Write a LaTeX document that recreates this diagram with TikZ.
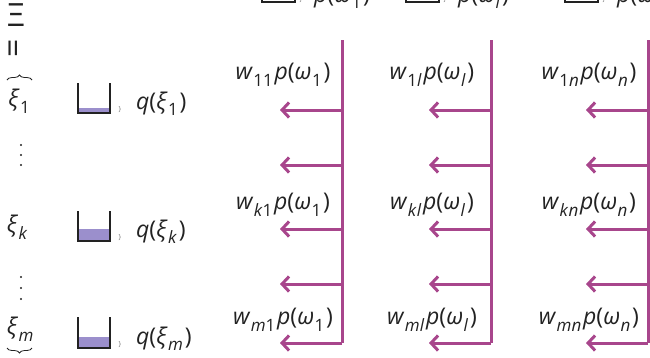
\documentclass[tikz,border=0pt]{standalone}
\usepackage{fontspec}
\setmainfont{Open Sans}
\usetikzlibrary{arrows.meta,decorations.pathreplacing}
\definecolor{mag}{RGB}{168,70,140}
\definecolor{lav}{RGB}{155,143,204}
\definecolor{ink}{RGB}{34,34,34}
\newcommand{\lowsub}[1]{\kern0.02em\raisebox{-0.3em}{\fontsize{17}{17}\selectfont #1}\kern0.08em}
\newcommand{\ii}[1]{\textit{#1}}
\tikzset{
  lbl/.style={text=ink,font=\fontsize{23}{27}\selectfont,inner sep=0pt},
  big/.style={text=ink,font=\fontsize{32}{36}\selectfont,inner sep=0pt},
  binwall/.style={draw=ink,line width=2.2pt},
  binfill/.style={fill=lav},
  tinyb/.style={text=ink!60,font=\fontsize{7}{8}\selectfont,inner sep=0pt},
  vbar/.style={draw=mag,line width=3pt},
  arr/.style={draw=mag,line width=3pt,-{Straight Barb[length=7pt,width=15pt]}},
  brc/.style={draw=ink,line width=0.8pt,decorate,decoration={brace,amplitude=5pt}},
  vdot/.style={fill=ink,circle,inner sep=0pt,minimum size=2.2pt}
}
\begin{document}
\begin{tikzpicture}[x=1pt,y=-1pt]
\useasboundingbox (0,0) rectangle (650,357);
\clip (0,0) rectangle (650,357);
% left column
\node[big] (Xi) at (16,15) {Ξ};
\node[big,rotate=90] (eq) at (17,48) {=};
\coordinate (ob1) at (7,80); \coordinate (ob2) at (32,80);
\draw[brc] (ob1) -- (ob2);
\node[lbl] (x1) at (20,101) {\ii{ξ}\lowsub{1}};
\node[vdot] (d1a) at (21,145) {}; \node[vdot] (d1b) at (21,155) {}; \node[vdot] (d1c) at (21,165) {};
\node[lbl] (xk) at (18,227) {\ii{ξ}\lowsub{\ii{k}}};
\node[vdot] (d2a) at (21,277) {}; \node[vdot] (d2b) at (21,288) {}; \node[vdot] (d2c) at (21,299) {};
\node[lbl] (xm) at (21,329) {\ii{ξ}\lowsub{\ii{m}}};
\coordinate (ub1) at (32,348); \coordinate (ub2) at (7,348);
\draw[brc] (ub1) -- (ub2);
% bins
\foreach \t/\b/\h/\nm/\lab in {83/113/5/a/1, 211/241/12/b/\ii{k}, 317/348/11/c/\ii{m}}{
  \fill[binfill] (79,\b) rectangle (109,\b-\h);
  \draw[binwall] (78,\t) -- (78,\b) -- (110,\b) -- (110,\t);
  \node[tinyb] (br\nm) at (120,\b-3) {\}};
  \node[lbl,anchor=base west] (q\nm) at (136,\b-4) {\ii{q}(\ii{ξ}\lowsub{\lab})};
}
% top row bins (clipped)
\foreach \x/\lab/\nm in {262/1/a, 406/\ii{l}/b, 565/\ii{n}/c}{
  \draw[binwall] (\x,-40) -- (\x,2) -- (\x+33,2) -- (\x+33,-40);
  \node[tinyb] (tb\nm) at (\x+39,0) {\}};
  \node[lbl,anchor=base west] (tp\nm) at (\x+52,2) {\ii{p}(\ii{ω}\lowsub{\lab})};
}
% right columns
\foreach \X/\s/\nm in {342/1/a, 491/\ii{l}/b, 648/\ii{n}/c}{
  \coordinate (top\nm) at (\X,40);
  \coordinate (r1\nm) at (\X,110); \coordinate (t1\nm) at (\X-62,110);
  \coordinate (r2\nm) at (\X,165); \coordinate (t2\nm) at (\X-62,165);
  \coordinate (r3\nm) at (\X,229); \coordinate (t3\nm) at (\X-62,229);
  \coordinate (r4\nm) at (\X,284); \coordinate (t4\nm) at (\X-62,284);
  \coordinate (r5\nm) at (\X,343); \coordinate (t5\nm) at (\X-62,343);
  \draw[vbar] (top\nm) -- (r5\nm);
  \draw[arr] (r1\nm) -- (t1\nm);
  \draw[arr] (r2\nm) -- (t2\nm);
  \draw[arr] (r3\nm) -- (t3\nm);
  \draw[arr] (r4\nm) -- (t4\nm);
  \draw[arr] (r5\nm) -- (t5\nm);
  \node[lbl] (w1\nm) at (\X-59,75) {\ii{w}\lowsub{1\s}\ii{p}(\ii{ω}\lowsub{\s})};
  \node[lbl] (wk\nm) at (\X-59,205) {\ii{w}\lowsub{\ii{k}\s}\ii{p}(\ii{ω}\lowsub{\s})};
  \node[lbl] (wm\nm) at (\X-59,320) {\ii{w}\lowsub{\ii{m}\s}\ii{p}(\ii{ω}\lowsub{\s})};
}
\end{tikzpicture}
\end{document}
